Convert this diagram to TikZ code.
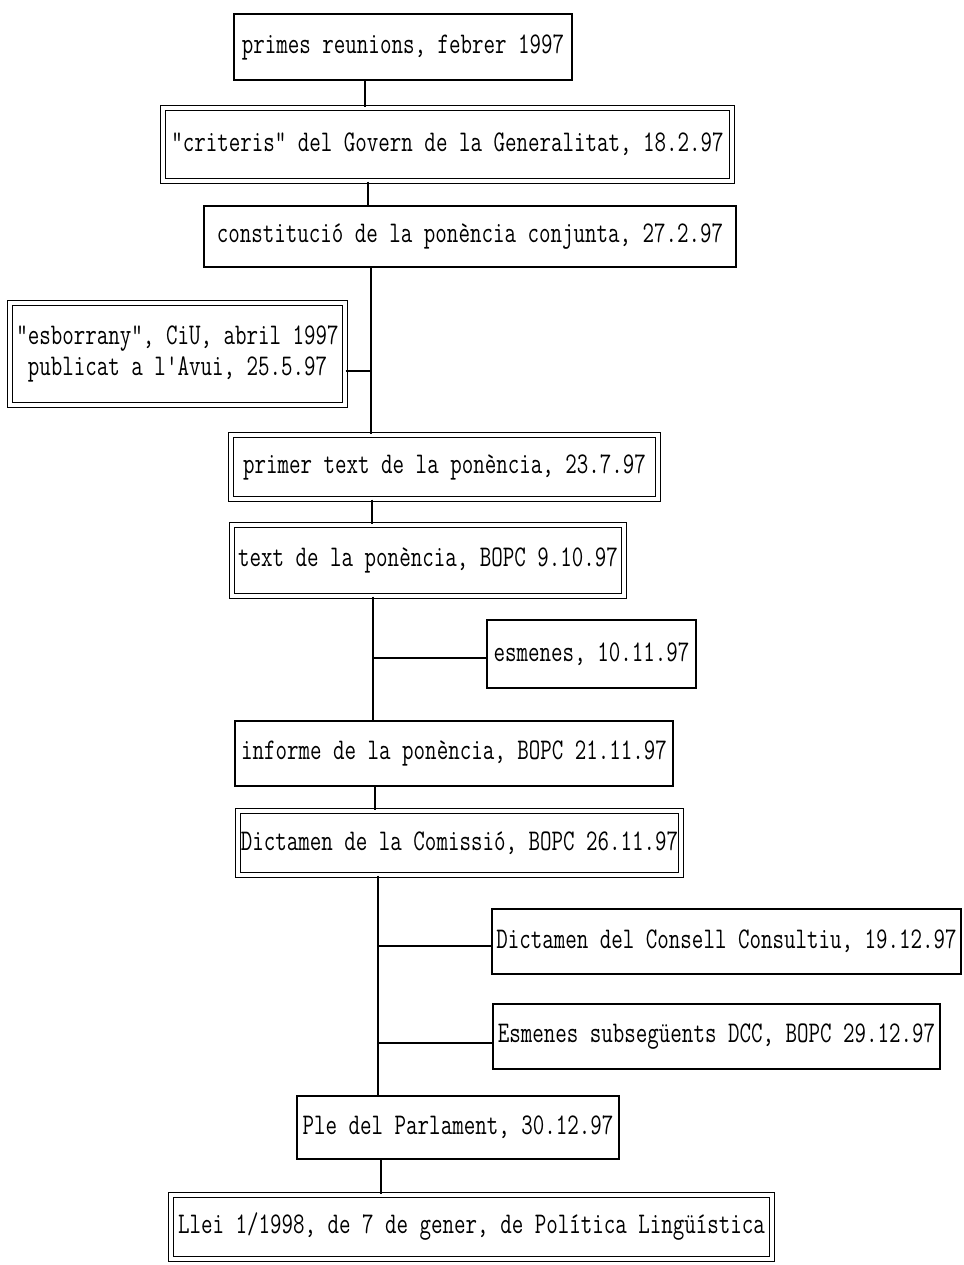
\documentclass[tikz,border=0pt]{standalone}
\usepackage{fontspec}
\newfontfamily\boxfont{Latin Modern Mono}[FakeStretch=0.745]
\usetikzlibrary{positioning,calc}

\begin{document}
\begin{tikzpicture}[
    x=1pt, y=-1pt,
    box/.style={rectangle, draw=black, line width=1.5pt, align=center, inner sep=0pt, font=\boxfont\fontsize{30}{31}\selectfont},
    dbox/.style={box, double, double distance=3.5pt, line width=1.3pt},
    link/.style={draw=black, line width=1.3pt}
]
    \useasboundingbox (0,0) rectangle (963,1265);

    \node [box, minimum width=338pt, minimum height=66pt] (n1) at (403,47) {primes reunions, febrer 1997};
    \node [dbox, minimum width=569pt, minimum height=73pt] (n2) at (447.5,144.5) {"criteris" del Govern de la Generalitat, 18.2.97};
    \node [box, minimum width=532pt, minimum height=61pt] (n3) at (470,236.5) {constitució de la ponència conjunta, 27.2.97};
    \node [dbox, minimum width=335pt, minimum height=102pt] (n4) at (177.5,354) {"esborrany", CiU, abril 1997\\publicat a l'Avui, 25.5.97};
    \node [dbox, minimum width=427pt, minimum height=64pt] (n5) at (444.5,467) {primer text de la ponència, 23.7.97};
    \node [dbox, minimum width=392pt, minimum height=71pt] (n6) at (428,560.5) {text de la ponència, BOPC 9.10.97};
    \node [box, minimum width=209pt, minimum height=68pt] (n7) at (591.5,654) {esmenes, 10.11.97};
    \node [box, minimum width=438pt, minimum height=65pt] (n8) at (454,753.5) {informe de la ponència, BOPC 21.11.97};
    \node [dbox, minimum width=443pt, minimum height=64pt] (n9) at (459.5,843) {Dictamen de la Comissió, BOPC 26.11.97};
    \node [box, minimum width=469pt, minimum height=65pt] (n10) at (726.5,941.5) {Dictamen del Consell Consultiu, 19.12.97};
    \node [box, minimum width=447pt, minimum height=65pt] (n11) at (716.5,1036.5) {Esmenes subsegüents DCC, BOPC 29.12.97};
    \node [box, minimum width=322pt, minimum height=63pt] (n12) at (458,1127.5) {Ple del Parlament, 30.12.97};
    \node [dbox, minimum width=601pt, minimum height=64pt] (n13) at (471.5,1227) {Llei 1/1998, de 7 de gener, de Política Lingüística};

    % main line
    \foreach \a/\b/\x in {n1/n2/365, n2/n3/368, n3/n5/371, n5/n6/372, n6/n8/373, n8/n9/375, n9/n12/378, n12/n13/381}
        \draw [link] (\a.south -| \x,0) -- (\b.north -| \x,0);

    % side branches
    \coordinate (b4) at (371,371);
    \coordinate (b7) at (373,658);
    \coordinate (b10) at (378,946);
    \coordinate (b11) at (378,1043);
    \draw [link] (b4 -| n4.east) -- (b4);
    \draw [link] (b7) -- (b7 -| n7.west);
    \draw [link] (b10) -- (b10 -| n10.west);
    \draw [link] (b11) -- (b11 -| n11.west);
\end{tikzpicture}
\end{document}
